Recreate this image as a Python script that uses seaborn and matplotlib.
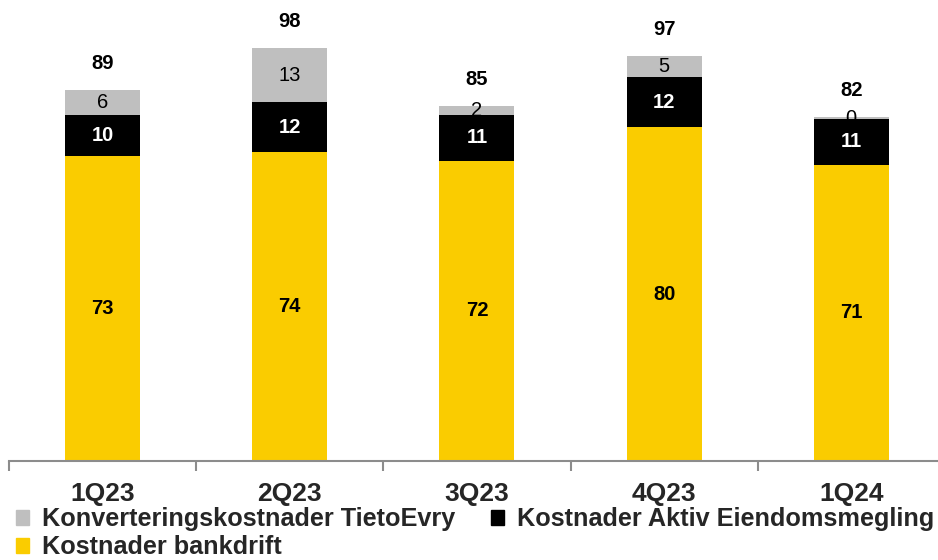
import matplotlib
matplotlib.use("Agg")
import matplotlib.pyplot as plt
from matplotlib.patches import Patch
import seaborn as sns
import pandas as pd
import numpy as np

categories = ["1Q23", "2Q23", "3Q23", "4Q23", "1Q24"]
bankdrift = [73, 74, 72, 80, 71]
aktiv = [10, 12, 11, 12, 11]
konvertering = [6, 13, 2, 5, 0.4]
totals = [89, 98, 85, 97, 82]

c_yellow = "#FACC00"
c_black = "#000000"
c_gray = "#BFBFBF"

sns.set_theme(style="white")
plt.rcParams["font.family"] = ["Liberation Sans", "DejaVu Sans"]

df = pd.DataFrame({
    "cat": categories,
    "bank": bankdrift,
    "aktiv": aktiv,
    "konv": konvertering,
})
df["lvl2"] = df["bank"] + df["aktiv"]
df["lvl3"] = df["lvl2"] + df["konv"]

fig = plt.figure(figsize=(9.38, 5.6), dpi=100)
ax = fig.add_axes([8.9 / 938, 99 / 560, 936 / 938, 461 / 560])

sns.barplot(data=df, x="cat", y="lvl3", color=c_gray, width=0.4, ax=ax,
            saturation=1, linewidth=0, order=categories)
sns.barplot(data=df, x="cat", y="lvl2", color=c_black, width=0.4, ax=ax,
            saturation=1, linewidth=0, order=categories)
sns.barplot(data=df, x="cat", y="bank", color=c_yellow, width=0.4, ax=ax,
            saturation=1, linewidth=0, order=categories)

ax.set_xlim(-0.5, 4.5)
ax.set_ylim(0, 110.5)
ax.set_xlabel("")
ax.set_ylabel("")
ax.set_yticks([])

fs = 14.5
for i in range(len(categories)):
    b, a, k = bankdrift[i], aktiv[i], konvertering[i]
    ax.text(i, b / 2, f"{b:.0f}", ha="center", va="center",
            fontsize=fs, fontweight="bold", color="black")
    ax.text(i, b + a / 2, f"{a:.0f}", ha="center", va="center",
            fontsize=fs, fontweight="bold", color="white")
    ax.text(i, b + a + k / 2, f"{k:.0f}", ha="center", va="center",
            fontsize=fs, color="black")
    ax.annotate(f"{totals[i]}", (i, b + a + k), xytext=(0, 19),
                textcoords="offset points", ha="center", va="center",
                fontsize=fs, fontweight="bold", color="black")

for s in ["top", "right", "left"]:
    ax.spines[s].set_visible(False)
ax.spines["bottom"].set_color("#8C8C8C")
ax.spines["bottom"].set_linewidth(1.5)

ax.set_xticks(range(len(categories)))
ax.set_xticklabels(categories, fontsize=19, fontweight="bold")
ax.tick_params(axis="x", which="major", length=0, pad=15)
ax.set_xticks(np.arange(-0.5, 4.5, 1.0), minor=True)
ax.tick_params(axis="x", which="minor", length=7, width=1.5, color="#8C8C8C",
               direction="out", bottom=True)

handles = [Patch(color=c_gray), Patch(color=c_yellow), Patch(color=c_black)]
labels = ["Konverteringskostnader TietoEvry", "Kostnader bankdrift",
          "Kostnader Aktiv Eiendomsmegling"]
fig.legend(handles, labels, loc="upper left", bbox_to_anchor=(0.017, 0.094),
           ncol=2, frameon=False, prop={"size": 18.2, "weight": "bold"},
           handlelength=0.52, handleheight=0.52, handletextpad=0.52,
           columnspacing=1.4, labelspacing=0.16, borderpad=0, borderaxespad=0)

fig.savefig("out.png", dpi=100)
